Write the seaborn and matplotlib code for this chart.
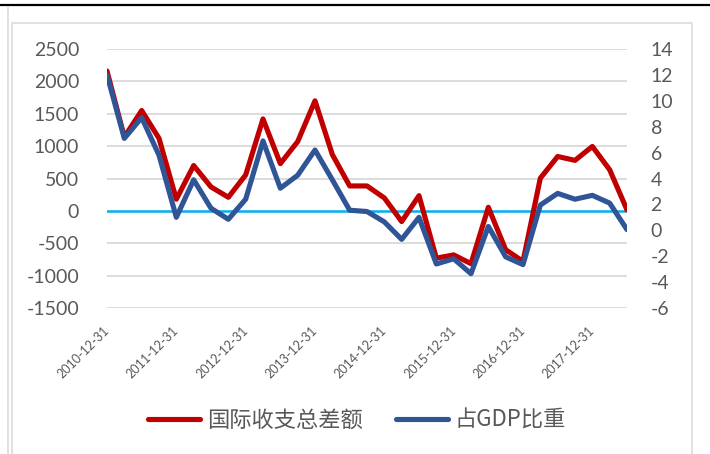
import numpy as np
import pandas as pd
import matplotlib
matplotlib.use("Agg")
import matplotlib.pyplot as plt
from matplotlib.lines import Line2D
import seaborn as sns

# ── Data (quarterly) ─────────────────────────────────────────
quarters = pd.date_range("2010-12-31", periods=31, freq="QE").strftime("%Y-%m-%d")

balance = [2160, 1140, 1550, 1120, 180, 700, 370, 210, 555, 1420,
           730, 1070, 1700, 870, 385, 385, 200, -165, 235, -730,
           -680, -815, 55, -600, -780, 505, 840, 780, 995, 635, 15]

gdp_share = [12.0, 7.1, 8.7, 5.8, 1.0, 3.9, 1.7, 0.85, 2.4, 6.9,
             3.25, 4.25, 6.2, 3.9, 1.55, 1.45, 0.65, -0.7, 1.0, -2.6,
             -2.2, -3.35, 0.3, -2.05, -2.65, 1.95, 2.85, 2.4, 2.7, 2.1, 0.05]

left_ticks = [-1500, -1000, -500, 0, 500, 1000, 1500, 2000, 2500]
right_ticks = [-6, -4, -2, 0, 2, 4, 6, 8, 10, 12, 14]

df = pd.DataFrame({"idx": np.arange(len(quarters)), "quarter": quarters,
                   "balance": balance, "gdp_share": gdp_share})

RED = "#c00000"
BLUE = "#2f5597"
GREY_TXT = "#595959"
GRID = "#d9d9d9"

sns.set_theme(style="white")
plt.rcParams["font.family"] = ["Lato", "Noto Sans CJK SC", "DejaVu Sans"]

W, H = 710, 454
fig = plt.figure(figsize=(W / 100, H / 100), dpi=100)
ax = fig.add_axes([107 / W, 1 - 308 / H, 520 / W, 259 / H])
ax2 = ax.twinx()

ax.set_xlim(0, len(quarters) - 1)
ax.set_ylim(left_ticks[0], left_ticks[-1])
ax2.set_ylim(right_ticks[0], right_ticks[-1])

# grid + zero line
for t in left_ticks:
    if t != 0:
        ax.axhline(t, color=GRID, lw=1.3, zorder=0)
ax.axhline(0, color="#00b0f0", lw=1.8, zorder=1)

sns.lineplot(data=df, x="idx", y="balance", ax=ax, color=RED,
             lw=3.7, label="国际收支总差额", legend=False, zorder=3)
sns.lineplot(data=df, x="idx", y="gdp_share", ax=ax2, color=BLUE,
             lw=3.7, label="占GDP比重", legend=False, zorder=3)

for a in (ax, ax2):
    for s in a.spines.values():
        s.set_visible(False)
    a.set_xlabel("")
    a.set_ylabel("")
    a.tick_params(length=0, colors=GREY_TXT)
    a.patch.set_visible(False)

ax.set_yticks(left_ticks)
ax.set_yticklabels([str(t) for t in left_ticks], fontsize=14, color=GREY_TXT)
ax.tick_params(axis="y", pad=20)
ax2.set_yticks(right_ticks)
ax2.set_yticklabels([str(t) for t in right_ticks], fontsize=14, color=GREY_TXT)
ax2.tick_params(axis="y", pad=17)

tick_pos = df["idx"].iloc[::4]
ax.set_xticks(tick_pos)
ax.set_xticklabels(df["quarter"].iloc[::4], rotation=45, ha="right",
                   va="center", rotation_mode="anchor", fontsize=9,
                   color=GREY_TXT)
ax.tick_params(axis="x", pad=15)

handles = [Line2D([], [], color=RED, lw=3.7, solid_capstyle="round"),
           Line2D([], [], color=BLUE, lw=3.7, solid_capstyle="round")]
leg = fig.legend(handles, ["国际收支总差额", "占GDP比重"], loc="center",
                 bbox_to_anchor=(357 / W, 1 - 420 / H), ncol=2, frameon=False,
                 handlelength=2.35, handletextpad=0.3, columnspacing=1.5,
                 prop={"family": ["Noto Sans CJK SC"], "size": 16})
for t in leg.get_texts():
    t.set_color(GREY_TXT)

# frame decorations
def fline(xs, ys, **kw):
    fig.add_artist(Line2D([x / W for x in xs], [1 - y / H for y in ys],
                          transform=fig.transFigure, **kw))

fline([0, W], [5, 5], color="black", lw=1.6)
fline([8, 8], [7, H], color=GRID, lw=1.1)
fline([11.5, 11.5, 692, 692], [H, 23, 23, H], color=GRID, lw=1.1)

fig.savefig("out.png", dpi=100)
